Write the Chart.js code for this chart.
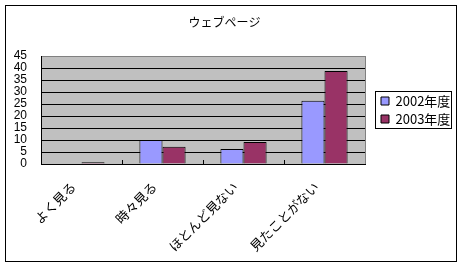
<!DOCTYPE html>
<html><head><meta charset="utf-8">
<script src="https://cdn.jsdelivr.net/npm/chart.js@4/dist/chart.umd.min.js"></script>
<style>html,body{margin:0;padding:0;background:#fff;}canvas{display:block;}</style>
</head><body>
<canvas id="c" width="463" height="268"></canvas>
<script>
const titleText = 'ウェブページ';
const categories = ['よく見る', '時々見る', 'ほとんど見ない', '見たことがない'];
const seriesNames = ['2002年度', '2003年度'];
const values2002 = [0, 10, 6.3, 26.4];
const values2003 = [0.7, 7.2, 9.2, 38.7];
const yTicks = [0, 5, 10, 15, 20, 25, 30, 35, 40, 45];

const FONT = "'Noto Sans CJK JP', 'Liberation Sans', sans-serif";

const decor = {
  id: 'decor',
  beforeLayout(chart) {
    const lg = chart.legend;
    if (lg && !lg._fixedFit) {
      const orig = lg.fit;
      lg.fit = function () { orig.call(this); this.width = 84; };
      lg._fixedFit = true;
    }
  },
  afterLayout(chart) {
    const lg = chart.legend;
    if (lg) { const d = 11; lg.left += d; lg.right += d; }
  },
  beforeDraw(chart) {
    const ctx = chart.ctx, a = chart.chartArea;
    ctx.save();
    ctx.fillStyle = '#fff';
    ctx.fillRect(0, 0, chart.width, chart.height);
    ctx.fillStyle = '#C0C0C0';
    ctx.fillRect(a.left, a.top, a.right - a.left, a.bottom - a.top);
    ctx.restore();
  },
  afterDraw(chart) {
    const ctx = chart.ctx, a = chart.chartArea;
    ctx.save();
    ctx.strokeStyle = '#808080';
    ctx.lineWidth = 1;
    ctx.beginPath();
    ctx.moveTo(Math.round(a.right) + 0.5, a.top);
    ctx.lineTo(Math.round(a.right) + 0.5, a.bottom);
    ctx.stroke();
    ctx.strokeStyle = '#000';
    ctx.strokeRect(5.5, 5.5, 451, 256);
    const lg = chart.legend;
    if (lg && lg.legendHitBoxes && lg.legendHitBoxes.length) {
      let l = Infinity, t = Infinity, r = -Infinity, b = -Infinity;
      lg.legendHitBoxes.forEach(h => {
        l = Math.min(l, h.left); t = Math.min(t, h.top);
        r = Math.max(r, h.left + h.width); b = Math.max(b, h.top + h.height);
      });
      const L = Math.round(l) - 5.5, T = Math.round(t) - 3.5;
      ctx.strokeRect(L, T, Math.round(r) + 1.5 - L, Math.round(b) + 2.5 - T);
    }
    ctx.restore();
  }
};

new Chart(document.getElementById('c'), {
  type: 'bar',
  data: {
    labels: categories,
    datasets: [
      { label: seriesNames[0], data: values2002, backgroundColor: '#9999FF', borderColor: '#000', borderWidth: 1, categoryPercentage: 0.57, barPercentage: 1.0 },
      { label: seriesNames[1], data: values2003, backgroundColor: '#993366', borderColor: '#000', borderWidth: 1, categoryPercentage: 0.57, barPercentage: 1.0 }
    ]
  },
  options: {
    responsive: false,
    animation: false,
    devicePixelRatio: 1,
    layout: { padding: { left: 0, right: 14, top: 6, bottom: 0 } },
    plugins: {
      title: {
        display: true, text: titleText, color: '#000',
        font: { family: FONT, size: 12, weight: 'normal' },
        padding: { top: 9, bottom: 26.6 }
      },
      legend: {
        position: 'right', fullSize: false,
        labels: {
          color: '#000', boxWidth: 8, boxHeight: 8, padding: 5,
          font: { family: FONT, size: 13 }
        }
      },
      tooltip: { enabled: false }
    },
    scales: {
      x: {
        grid: { display: true, drawOnChartArea: false, drawTicks: true, tickLength: -4, color: '#000', offset: true },
        border: { color: '#000', width: 1 },
        ticks: {
          color: '#000', font: { family: FONT, size: 13 },
          minRotation: 45, maxRotation: 45, autoSkip: false, padding: 19, labelOffset: -8
        },
        afterFit(s) { s.height = 104; }
      },
      y: {
        min: 0, max: 45,
        afterBuildTicks(s) { s.ticks = yTicks.map(v => ({ value: v })); },
        grid: {
          drawTicks: false,
          color: ctx => (ctx.tick && ctx.tick.value === 45) ? '#808080' : '#000'
        },
        border: { color: '#000', width: 1 },
        ticks: {
          color: '#000', font: { family: "'Liberation Sans', sans-serif", size: 12 },
          autoSkip: false, padding: 14
        },
        afterFit(s) { s.width = 41; }
      }
    }
  },
  plugins: [decor]
});
</script>
</body></html>
